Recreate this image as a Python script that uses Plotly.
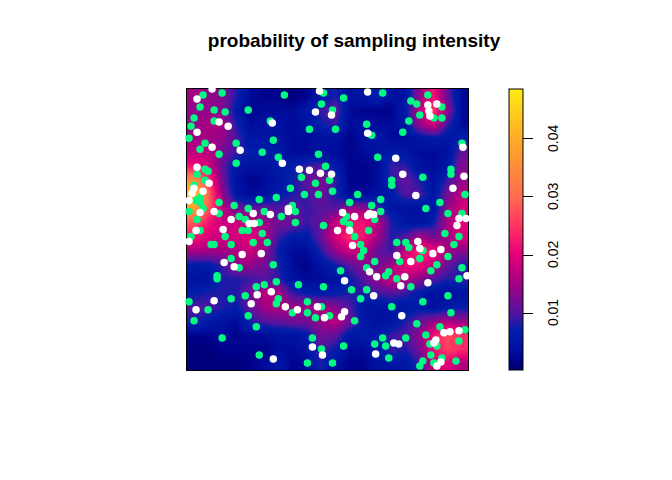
import plotly.graph_objects as go

title = "probability of sampling intensity"
grid_x = [7, 21, 35, 49, 63, 77, 91, 105, 119, 133, 147, 161, 175, 189, 203, 217, 231, 245, 259, 273]
grid_y = [273, 259, 245, 231, 217, 203, 189, 175, 161, 147, 133, 119, 105, 91, 77, 63, 49, 35, 21, 7]
# intensity in thousandths, top row first
intensity = [
    [15,14,13,8,3,2,2,1,2,5,8,4,5,7,4,4,14,22,11,3],
    [14,14,13,6,2,3,3,3,5,9,11,3,2,2,2,6,17,25,14,3],
    [14,16,15,8,3,4,4,3,4,7,9,3,4,3,3,5,14,19,9,3],
    [15,15,14,10,5,5,4,3,3,4,4,2,4,5,3,3,5,6,5,7],
    [17,17,12,9,7,7,6,3,3,4,3,2,3,4,6,5,3,3,4,11],
    [22,19,11,5,4,4,6,7,9,10,6,2,2,3,9,9,4,3,5,13],
    [36,25,12,4,2,3,5,7,11,13,9,2,2,3,9,11,8,4,9,14],
    [44,30,14,5,3,4,6,8,9,12,8,3,3,4,6,10,10,5,12,17],
    [38,28,17,12,11,11,10,11,9,10,10,14,14,10,5,4,4,5,14,19],
    [28,22,18,18,18,15,12,12,9,11,18,22,22,17,8,5,4,7,16,20],
    [22,19,18,19,20,16,9,6,6,11,19,24,22,15,8,10,16,12,15,19],
    [15,15,15,16,18,14,7,3,3,8,14,18,17,11,9,18,24,22,15,13],
    [6,6,9,14,14,12,8,3,2,4,7,10,13,12,15,21,21,17,11,8],
    [4,5,8,8,9,10,9,4,3,3,4,7,10,14,18,16,13,10,8,9],
    [7,8,8,8,12,17,16,9,7,6,7,8,8,9,10,9,6,4,3,4],
    [10,10,8,7,11,15,16,15,15,16,13,10,5,4,5,5,6,4,6,7],
    [8,6,4,3,8,10,11,12,12,14,17,12,6,4,5,8,11,14,16,14],
    [2,2,3,2,3,3,4,4,6,12,11,5,6,6,9,10,14,22,27,24],
    [1,1,2,2,2,2,3,3,4,10,7,3,3,6,9,8,12,21,26,24],
    [1,1,1,1,2,3,5,2,3,8,4,2,2,4,5,5,9,18,20,16],
]
colorbar_ticks = [0.01, 0.02, 0.03, 0.04]
z_min = 0.0002
z_max = 0.0486

green_points = [
    (16,274),(35,276),(97,274),(13,262),(27,259),(38,257),(61,259),(136,276),(134,265),(7,251),
    (27,248),(4,243),(122,240),(2,231),(83,248),(86,229),(18,226),(13,220),(49,226),(32,215),
    (75,217),(91,212),(131,215),(49,206),(138,203),(18,200),(21,198),(10,195),(114,192),(18,189),
    (128,186),(7,184),(103,181),(117,175),(131,175),(13,172),(9,169),(72,170),(89,172),(13,167),
    (32,167),(47,164),(61,161),(105,164),(2,158),(16,161),(32,156),(77,158),(108,158),(52,153),
    (94,153),(58,150),(10,150),(108,147),(72,147),(136,144),
    (4,133),(13,139),(38,133),(55,139),(61,139),(75,136),(24,125),(27,125),(44,125),(66,127),
    (80,127),(44,111),(86,105),(52,102),(30,94),(30,91),(89,88),(77,85),(69,83),(111,85),
    (136,83),(58,74),(44,71),(91,71),(89,66),(2,68),(120,68),(21,60),(105,57),(120,57),
    (134,63),(61,54),(128,52),(7,49),(69,43),(125,32),(35,32),(134,21),(72,15),(120,7),
    (156,271),(195,276),(240,274),(223,268),(229,265),(254,262),(145,259),(232,254),(246,251),(254,251),
    (221,248),(148,240),(179,245),(184,234),(215,237),(274,226),(190,212),(263,200),(263,195),(235,192),
    (142,189),(204,189),(204,184),(145,178),(277,175),(170,175),(193,170),(162,167),(252,167),(184,164),
    (238,161),(193,158),(260,156),(274,156),(159,153),(187,150),(156,148),(162,145),
    (181,139),(167,133),(257,136),(271,133),(173,125),(209,127),(218,127),(221,122),(266,125),(176,119),
    (173,113),(235,119),(187,108),(212,108),(232,111),(260,113),(249,105),(153,99),(179,102),(201,98),
    (198,94),(243,99),(274,102),(209,91),(271,91),(223,83),(164,80),(179,80),(173,71),(260,74),
    (235,68),(204,63),(263,57),(142,54),(167,49),(229,46),(252,43),(238,35),(277,40),(195,32),
    (218,32),(271,29),(187,26),(198,24),(156,24),(242,26),(249,24),(201,12),(243,15),(254,12),
    (268,9),(145,7),(235,9),(232,4),(246,7),
]
white_points = [
    (25,280),(10,270),(132,278),(128,257),(32,247),(41,243),(85,246),(10,237),(25,222),(53,219),
    (95,206),(10,202),(112,200),(122,199),(133,196),(22,186),(7,181),(5,176),(16,178),(2,169),
    (101,161),(101,158),(27,158),(13,157),(66,156),(83,155),(44,150),(62,146),(67,146),
    (9,139),(36,140),(2,128),(55,115),(74,116),(37,107),(47,103),(84,78),(70,75),(64,66),
    (27,69),(9,60),(98,63),(110,60),(130,63),(137,52),(125,23),(135,15),(86,11),
    (180,277),(240,264),(249,265),(144,254),(241,258),(242,253),(180,236),(275,222),(208,211),(144,195),
    (215,195),(276,193),(265,181),(228,174),(155,157),(167,153),(180,154),(182,156),(186,155),(271,151),
    (278,151),(269,144),
    (150,139),(162,139),(230,128),(165,124),(232,121),(253,120),(245,116),(209,114),(223,108),(182,98),
    (189,93),(217,93),(279,94),(213,84),(240,87),(157,89),(186,74),(157,58),(154,53),(214,54),
    (256,37),(262,38),(271,39),(248,30),(246,27),(206,27),(211,26),(188,16),(253,8),(249,4),
]

z = [[v / 1000 for v in row] for row in intensity]
scale = [
    [0.00, "rgb(0,0,110)"],
    [0.03, "rgb(0,0,135)"],
    [0.07, "rgb(0,15,160)"],
    [0.14, "rgb(0,30,170)"],
    [0.20, "rgb(80,20,160)"],
    [0.31, "rgb(165,0,130)"],
    [0.41, "rgb(228,0,120)"],
    [0.51, "rgb(255,50,100)"],
    [0.62, "rgb(255,110,80)"],
    [0.72, "rgb(255,140,60)"],
    [0.82, "rgb(255,170,40)"],
    [1.00, "rgb(255,235,20)"],
]

fig = go.Figure()
fig.add_trace(go.Heatmap(
    x=grid_x, y=grid_y, z=z, zsmooth="best", zmin=z_min, zmax=z_max,
    colorscale=scale, hoverinfo="skip",
    colorbar=dict(
        x=(508 - 186) / 281, xanchor="left", xpad=0, y=0.5, yanchor="middle", ypad=0,
        len=1, lenmode="fraction", thickness=14, thicknessmode="pixels",
        outlinecolor="black", outlinewidth=1,
        tickmode="array", tickvals=colorbar_ticks, ticktext=["" for t in colorbar_ticks],
        ticks="outside", ticklen=10, tickcolor="black", tickwidth=1,
    ),
))
fig.add_trace(go.Scatter(
    x=[p[0] for p in green_points], y=[p[1] for p in green_points], mode="markers",
    marker=dict(color="rgb(0,250,130)", size=7.5), cliponaxis=False, showlegend=False,
))
fig.add_trace(go.Scatter(
    x=[p[0] for p in white_points], y=[p[1] for p in white_points], mode="markers",
    marker=dict(color="white", size=7.5), cliponaxis=False, showlegend=False,
))
axis = dict(showgrid=False, zeroline=False, showticklabels=False, ticks="", range=[0, 280],
            showline=True, mirror=True, linecolor="black", linewidth=1, layer="below traces")
fig.update_layout(
    width=672, height=480, autosize=False,
    margin=dict(l=179, r=212, t=81, b=118, pad=0),
    paper_bgcolor="white", plot_bgcolor="white", showlegend=False,
    xaxis=axis, yaxis=axis,
    title=dict(text=f"<b>{title}</b>", x=346 / 672, xref="container", xanchor="center",
               y=1 - 32 / 480, yref="container", yanchor="middle",
               font=dict(family="Liberation Sans", size=19, color="black")),
    annotations=[
        dict(text=str(t), xref="paper", yref="paper", x=(552 - 186) / 281,
             y=(t - z_min) / (z_max - z_min), xanchor="center", yanchor="middle",
             textangle=-90, showarrow=False,
             font=dict(family="Liberation Sans", size=14, color="black"))
        for t in colorbar_ticks
    ],
)
fig.write_html("out.html")
